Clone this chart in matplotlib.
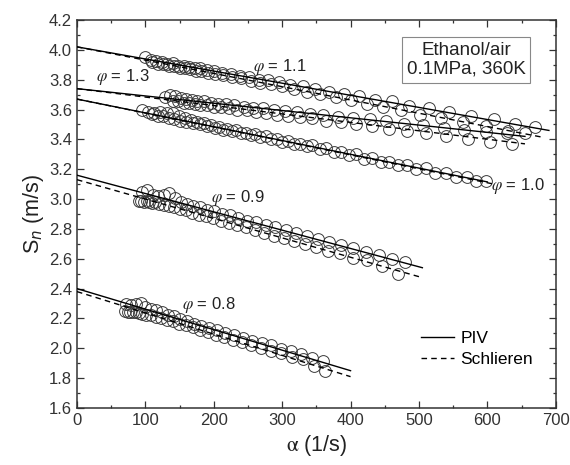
import numpy as np
import matplotlib
matplotlib.use('Agg')
import matplotlib.pyplot as plt
from matplotlib.ticker import MultipleLocator

plt.rcParams['font.family'] = ['Liberation Sans', 'DejaVu Sans']

# linear fits: PIV (solid) and Schlieren (dashed), order 1.1, 1.3, 1.0, 0.9, 0.8
piv_x_end = [690, 655, 600, 505, 400]
piv_y0 = [4.02, 3.74, 3.67, 3.16, 2.40]
piv_y_end = [3.46, 3.42, 3.115, 2.54, 1.85]
sch_x_end = [680, 655, 610, 500, 400]
sch_y0 = [4.02, 3.74, 3.67, 3.13, 2.38]
sch_y_end = [3.415, 3.37, 3.10, 2.48, 1.81]

# measured points (open circles)
x11p = [100, 108, 116, 124, 132, 140, 148, 156, 164, 172, 180, 190, 200, 212, 225, 238, 252, 266,
        280, 296, 312, 330, 348, 368, 390, 412, 436, 460, 486, 514, 544, 576, 610, 640, 670]
y11p = [3.95, 3.93, 3.925, 3.92, 3.905, 3.91, 3.895, 3.89, 3.885, 3.875, 3.875, 3.865, 3.86, 3.845,
        3.84, 3.825, 3.82, 3.80, 3.795, 3.785, 3.765, 3.755, 3.74, 3.72, 3.705, 3.69, 3.665, 3.655,
        3.625, 3.61, 3.585, 3.56, 3.535, 3.50, 3.48]
x11s = [110, 118, 126, 134, 142, 150, 158, 166, 174, 182, 192, 202, 214, 226, 240, 254, 268, 284,
        300, 318, 336, 356, 378, 400, 424, 448, 474, 502, 532, 564, 598, 630]
y11s = [3.92, 3.905, 3.905, 3.895, 3.89, 3.88, 3.875, 3.87, 3.86, 3.855, 3.845, 3.84, 3.83, 3.815,
        3.81, 3.79, 3.78, 3.77, 3.755, 3.74, 3.72, 3.705, 3.685, 3.665, 3.64, 3.62, 3.60, 3.565,
        3.545, 3.515, 3.49, 3.455]

x13p = [128, 136, 144, 152, 160, 168, 176, 186, 196, 206, 218, 230, 244, 258, 272, 288, 304, 322,
        340, 360, 382, 404, 428, 452, 478, 506, 536, 566, 598, 628, 655]
y13p = [3.685, 3.70, 3.69, 3.68, 3.67, 3.665, 3.66, 3.655, 3.645, 3.64, 3.635, 3.63, 3.62, 3.61,
        3.61, 3.595, 3.59, 3.585, 3.57, 3.565, 3.55, 3.54, 3.535, 3.52, 3.505, 3.495, 3.475, 3.465,
        3.45, 3.44, 3.44]
x13s = [140, 148, 156, 164, 172, 180, 190, 200, 210, 222, 234, 248, 262, 276, 292, 308, 326, 344,
        364, 386, 408, 432, 456, 482, 510, 540, 572, 604, 636]
y13s = [3.66, 3.655, 3.645, 3.645, 3.64, 3.63, 3.63, 3.62, 3.62, 3.61, 3.60, 3.595, 3.585, 3.58,
        3.565, 3.56, 3.55, 3.54, 3.525, 3.515, 3.50, 3.49, 3.47, 3.455, 3.445, 3.42, 3.405, 3.385, 3.37]

x10p = [95, 104, 113, 122, 131, 140, 149, 158, 167, 176, 186, 196, 208, 220, 233, 247, 261, 276,
        292, 308, 326, 344, 364, 386, 408, 432, 456, 482, 510, 540, 570, 598]
y10p = [3.60, 3.585, 3.575, 3.585, 3.58, 3.575, 3.56, 3.545, 3.53, 3.515, 3.51, 3.495, 3.485, 3.47,
        3.46, 3.445, 3.435, 3.42, 3.405, 3.39, 3.37, 3.36, 3.34, 3.315, 3.30, 3.275, 3.25, 3.23,
        3.205, 3.175, 3.15, 3.12]
x10s = [110, 118, 126, 134, 142, 150, 160, 170, 180, 190, 202, 214, 226, 240, 254, 268, 284, 300,
        318, 336, 356, 376, 398, 420, 444, 470, 496, 524, 554, 584]
y10s = [3.57, 3.56, 3.555, 3.545, 3.535, 3.525, 3.515, 3.51, 3.50, 3.49, 3.475, 3.465, 3.455, 3.44,
        3.43, 3.415, 3.40, 3.385, 3.37, 3.355, 3.335, 3.315, 3.295, 3.27, 3.25, 3.225, 3.20, 3.175,
        3.145, 3.12]

x09p = [95, 103, 111, 119, 127, 135, 143, 152, 161, 170, 180, 190, 201, 212, 224, 236, 249, 262,
        276, 290, 305, 320, 336, 352, 369, 386, 404, 422, 441, 460, 480]
y09p = [3.05, 3.06, 3.03, 3.02, 3.03, 3.04, 3.005, 2.98, 2.97, 2.955, 2.945, 2.93, 2.92, 2.90, 2.89,
        2.875, 2.855, 2.845, 2.825, 2.81, 2.79, 2.775, 2.75, 2.735, 2.71, 2.69, 2.67, 2.645, 2.625,
        2.60, 2.58]
x09s = [90, 94, 98, 102, 106, 110, 114, 120, 127, 134, 142, 150, 159, 168, 178, 188, 199, 210, 222,
        234, 247, 260, 274, 288, 303, 318, 334, 350, 367, 385, 404, 424, 446, 470]
y09s = [2.99, 2.985, 2.98, 2.985, 2.98, 2.975, 2.98, 2.97, 2.96, 2.955, 2.945, 2.935, 2.925, 2.91,
        2.895, 2.885, 2.87, 2.855, 2.84, 2.825, 2.81, 2.79, 2.775, 2.755, 2.74, 2.72, 2.70, 2.68,
        2.655, 2.64, 2.605, 2.59, 2.55, 2.50]

x08p = [72, 79, 86, 93, 100, 108, 116, 124, 133, 142, 151, 161, 171, 182, 193, 205, 217, 230, 243,
        256, 270, 284, 298, 313, 328, 344, 360]
y08p = [2.30, 2.29, 2.30, 2.305, 2.28, 2.265, 2.255, 2.245, 2.225, 2.215, 2.195, 2.18, 2.165, 2.15,
        2.135, 2.12, 2.10, 2.09, 2.07, 2.05, 2.035, 2.02, 1.995, 1.98, 1.96, 1.935, 1.915]
x08s = [70, 74, 78, 82, 86, 90, 95, 101, 108, 115, 123, 131, 140, 149, 159, 169, 180, 191, 203, 215,
        228, 241, 255, 269, 284, 299, 315, 331, 347, 363]
y08s = [2.25, 2.245, 2.24, 2.245, 2.24, 2.235, 2.23, 2.225, 2.22, 2.21, 2.20, 2.19, 2.18, 2.165,
        2.155, 2.14, 2.125, 2.11, 2.09, 2.075, 2.055, 2.04, 2.02, 2.00, 1.985, 1.97, 1.945, 1.93,
        1.88, 1.85]

# labels
phi_labels = ['1.1', '1.3', '1.0', '0.9', '0.8']
phi_label_x = [258, 28, 606, 196, 153]
phi_label_y = [3.885, 3.82, 3.09, 3.01, 2.29]

fig = plt.figure(figsize=(5.7, 4.65), dpi=100)
ax = fig.add_axes([0.135, 0.1226, 0.840, 0.8344])

circle_sets = [(x11p, y11p), (x11s, y11s), (x13p, y13p), (x13s, y13s), (x10p, y10p),
               (x10s, y10s), (x09p, y09p), (x09s, y09s), (x08p, y08p), (x08s, y08s)]
for xs, ys in circle_sets:
    ax.plot(xs, ys, linestyle='none', marker='o', markersize=8.5, markerfacecolor='none',
            markeredgecolor='#3a3a3a', markeredgewidth=0.7, zorder=2)

for i in range(len(piv_x_end)):
    ax.plot([0, piv_x_end[i]], [piv_y0[i], piv_y_end[i]], color='black', linewidth=1.0,
            label='PIV' if i == 0 else None, zorder=3)
    ax.plot([0, sch_x_end[i]], [sch_y0[i], sch_y_end[i]], color='black', linewidth=1.0,
            linestyle=(0, (4, 3)), label='Schlieren' if i == 0 else None, zorder=3)

for lab, lx, ly in zip(phi_labels, phi_label_x, phi_label_y):
    ax.text(lx, ly, r'$\varphi$' + ' = ' + lab, fontsize=12, ha='left', va='center',
            math_fontfamily='stix', color='#222222', zorder=4)

ax.text(0.813, 0.897, 'Ethanol/air\n0.1MPa, 360K', transform=ax.transAxes, fontsize=13.5,
        ha='center', va='center', linespacing=1.15, color='#222222',
        bbox=dict(boxstyle='square,pad=0.25', facecolor='white', edgecolor='#888888', linewidth=0.8))

ax.legend(loc='upper left', bbox_to_anchor=(0.685, 0.24), frameon=False, fontsize=12.5,
          handlelength=1.9, handletextpad=0.4, labelspacing=0.35)

ax.set_xlim(0, 700)
ax.set_ylim(1.6, 4.2)
ax.xaxis.set_major_locator(MultipleLocator(100))
ax.xaxis.set_minor_locator(MultipleLocator(50))
ax.yaxis.set_major_locator(MultipleLocator(0.2))
ax.yaxis.set_minor_locator(MultipleLocator(0.1))
ax.yaxis.set_major_formatter(matplotlib.ticker.FormatStrFormatter('%.1f'))
ax.tick_params(which='both', direction='in', top=True, right=True, colors='#333333',
               labelsize=12, width=0.9)
ax.tick_params(which='major', length=5)
ax.tick_params(which='minor', length=2.5)
for sp in ax.spines.values():
    sp.set_color('#333333')
    sp.set_linewidth(1.1)

ax.set_xlabel(r'$\mathrm{\alpha}$ (1/s)', fontsize=15.5, math_fontfamily='stix', color='#222222',
              labelpad=4)
ax.set_ylabel(r'S$_{\mathit{n}}$ (m/s)', fontsize=15.5, color='#222222', labelpad=2)

fig.savefig('out.png', dpi=100)
